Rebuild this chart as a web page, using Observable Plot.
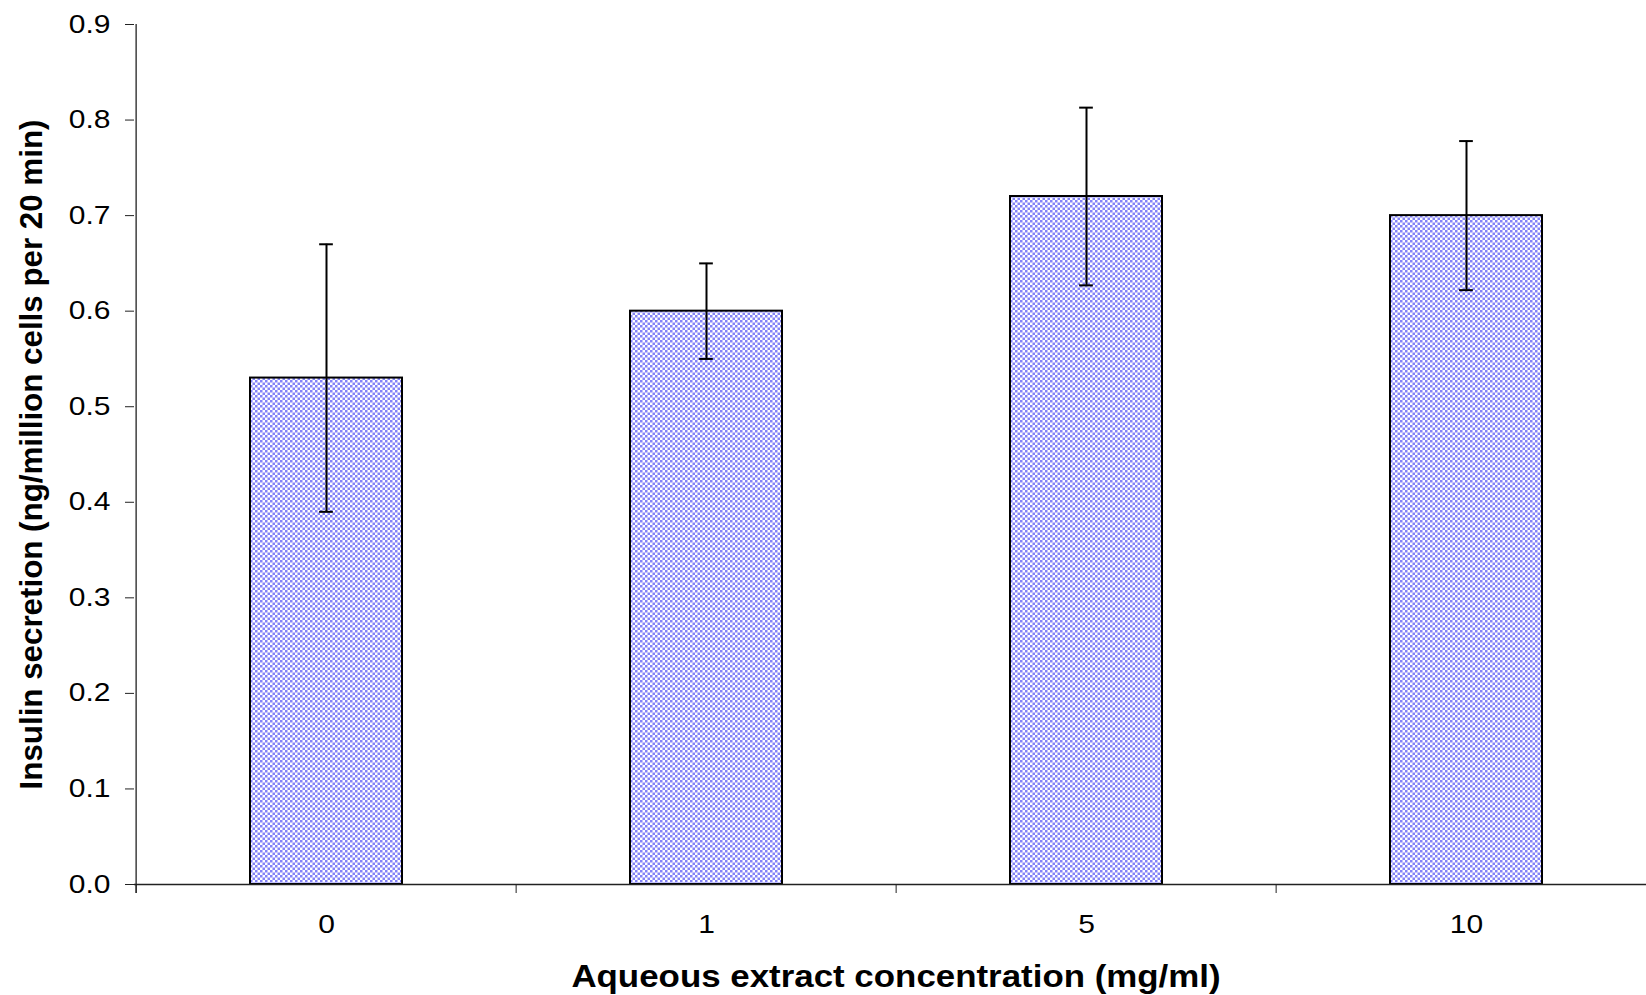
<!DOCTYPE html>
<html><head><meta charset="utf-8">
<script src="https://cdn.jsdelivr.net/npm/d3@7"></script>
<script src="https://cdn.jsdelivr.net/npm/@observablehq/plot@0.6"></script>
<style>
html,body{margin:0;padding:0;background:#fff;}
#chart svg{display:block;}
</style>
</head><body><div id="chart"></div>
<script>
// ---- data ----
const concentrations = ["0", "1", "5", "10"];
const means = [0.53, 0.60, 0.72, 0.70];
const errors = [0.14, 0.05, 0.093, 0.078];
const yTicks = [0, 0.1, 0.2, 0.3, 0.4, 0.5, 0.6, 0.7, 0.8, 0.9];
const xTitle = "Aqueous extract concentration (mg/ml)";
const yTitle = "Insulin secretion (ng/million cells per 20 min)";

const data = concentrations.map((c, i) => ({conc: c, mean: means[i], err: errors[i]}));

// ---- layout ----
const W = 1646, H = 995;
const mL = 134, mR = -11, mT = 24, mB = 111;
const step = (W - mL - mR) / concentrations.length;
const barFrac = 0.4;
const capW = 14;
const capInset = (step * barFrac - capW) / 2;
const font = "'Liberation Sans', Arial, Helvetica, sans-serif";

const defsMark = () => {
  const defs = d3.create("svg:defs");
  const p = defs.append("pattern")
    .attr("id", "checkerFill")
    .attr("patternUnits", "userSpaceOnUse")
    .attr("width", 5).attr("height", 5);
  p.append("rect").attr("width", 5).attr("height", 5).attr("fill", "#ffffff");
  p.append("rect").attr("x", 0).attr("y", 0).attr("width", 2.5).attr("height", 2.5).attr("fill", "#8383f8");
  p.append("rect").attr("x", 2.5).attr("y", 2.5).attr("width", 2.5).attr("height", 2.5).attr("fill", "#8383f8");
  return defs.node();
};

const chart = Plot.plot({
  width: W, height: H,
  marginLeft: mL, marginRight: mR, marginTop: mT, marginBottom: mB,
  style: {fontFamily: font, background: "#fff", color: "#000", overflow: "hidden"},
  x: {domain: concentrations, paddingInner: 1 - barFrac, paddingOuter: (1 - barFrac) / 2},
  y: {domain: [yTicks[0], yTicks[yTicks.length - 1]]},
  marks: [
    defsMark,
    Plot.barY(data, {x: "conc", y: "mean", fill: "url(#checkerFill)", stroke: "#000", strokeWidth: 2}),
    Plot.ruleX(data, {x: "conc", y1: d => d.mean - d.err, y2: d => d.mean + d.err, stroke: "#000", strokeWidth: 2}),
    Plot.tickY(data, {x: "conc", y: d => d.mean - d.err, insetLeft: capInset, insetRight: capInset, stroke: "#000", strokeWidth: 2}),
    Plot.tickY(data, {x: "conc", y: d => d.mean + d.err, insetLeft: capInset, insetRight: capInset, stroke: "#000", strokeWidth: 2}),
    // y axis line (extends below baseline like the category ticks)
    Plot.ruleX(concentrations.slice(0, 1), {x: d => d, dx: -step / 2, insetBottom: -9, stroke: "#222", strokeWidth: 1.3}),
    // x axis line
    Plot.ruleY([0], {stroke: "#222", strokeWidth: 1.5}),
    Plot.axisY({ticks: yTicks, tickFormat: d3.format(".1f"), tickSize: 9, tickPadding: 15, fontSize: 25, label: null, stroke: "#222"}),
    Plot.axisX({tickSize: 0, tickPadding: 31, fontSize: 25, label: null}),
    Plot.axisX({tickSize: 9, tickFormat: () => "", label: null, dx: -step / 2, stroke: "#222"}),
    Plot.text([yTitle], {frameAnchor: "left", textAnchor: "middle", rotate: -90, dx: 32 - mL, fontSize: 31, fontWeight: "bold", lineAnchor: "middle"}),
    Plot.text([xTitle], {frameAnchor: "bottom", textAnchor: "middle", dy: 92, fontSize: 32, fontWeight: "bold", lineAnchor: "middle"})
  ]
});

document.getElementById("chart").append(chart);

// the reference's text is slightly wider than Arial: stretch glyphs horizontally
function stretchText(t, k) {
  const L = t.getComputedTextLength();
  if (L > 0) {
    t.setAttribute("textLength", (L * k).toFixed(2));
    t.setAttribute("lengthAdjust", "spacingAndGlyphs");
  }
}
chart.querySelectorAll('g[aria-label="y-axis tick label"] text').forEach(t => stretchText(t, 1.2));
chart.querySelectorAll('g[aria-label="x-axis tick label"] text').forEach(t => stretchText(t, 1.2));
chart.querySelectorAll("text").forEach(t => {
  if (t.textContent === xTitle) stretchText(t, 1.09);
  if (t.textContent === yTitle) stretchText(t, 1.01);
});
</script>
</body></html>
